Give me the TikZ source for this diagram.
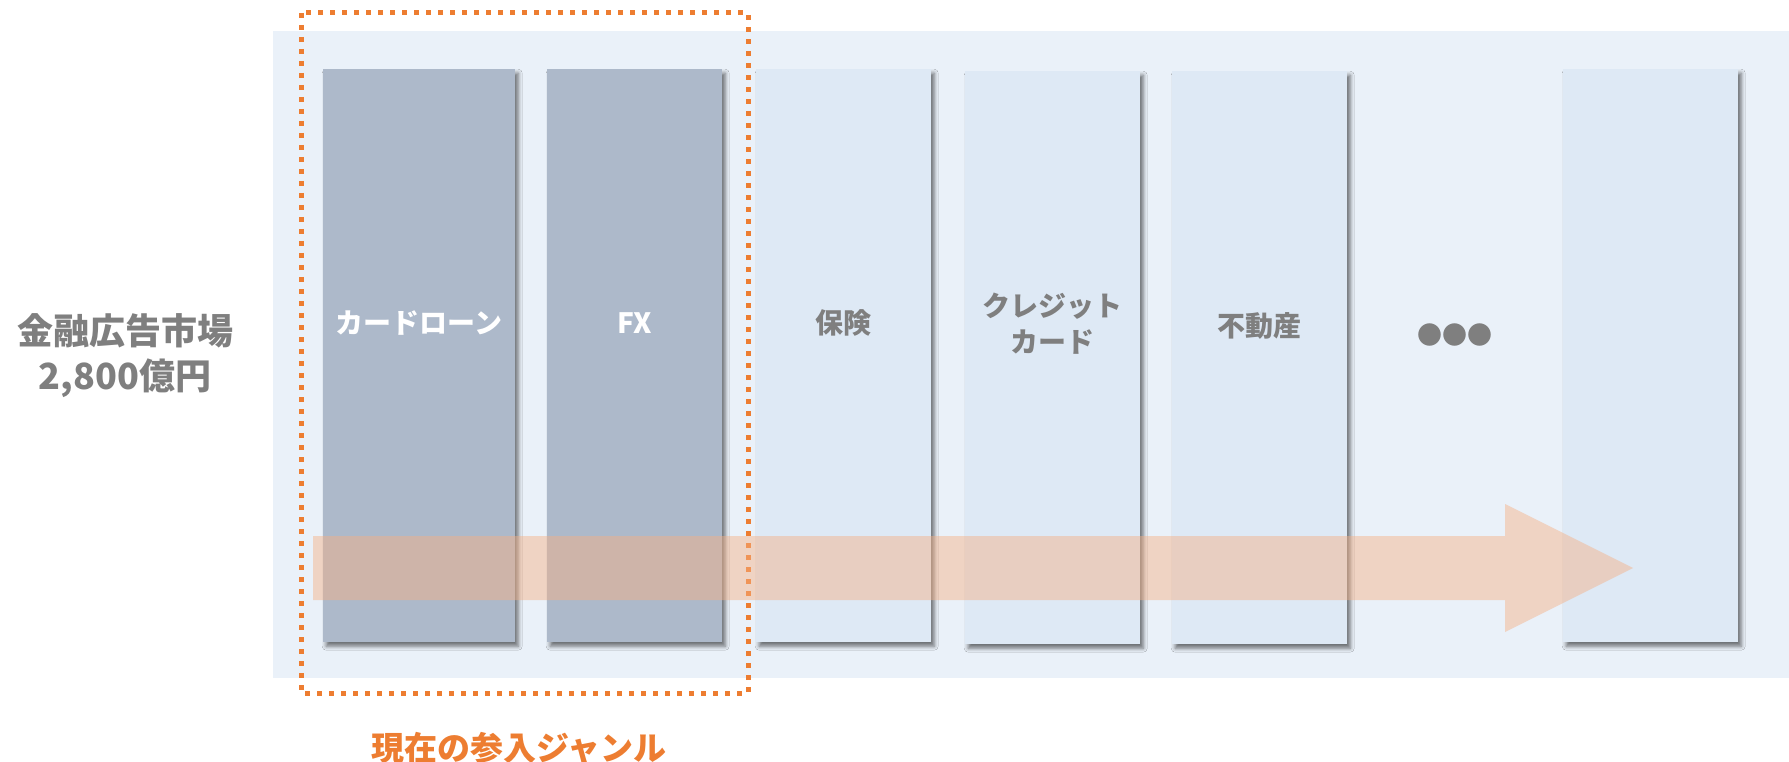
\documentclass[tikz,border=0pt]{standalone}
\usepackage{fontspec}
\setmainfont{Noto Sans CJK JP}
\usetikzlibrary{shadows.blur}
\definecolor{panelbg}{HTML}{EAF1F9}
\definecolor{darkbox}{HTML}{ADB9CA}
\definecolor{lightbox}{HTML}{DEE9F5}
\definecolor{orangeline}{HTML}{ED7D31}
\definecolor{arrowfill}{HTML}{F5B084}
\definecolor{textgray}{HTML}{7F7F7F}
\tikzset{
  genrebox/.style={rectangle, draw=none, inner sep=0pt, anchor=north west,
    minimum width=175pt, minimum height=573pt,
    blur shadow={shadow xshift=3pt, shadow yshift=-4pt, shadow blur radius=4pt, shadow opacity=55}},
  darkgenre/.style={genrebox, fill=darkbox},
  lightgenre/.style={genrebox, fill=lightbox},
  boxlabel/.style={font=\bfseries\fontsize{28}{36}\selectfont, align=center, inner sep=0pt},
  darklabel/.style={boxlabel, text=white},
  lightlabel/.style={boxlabel, text=textgray},
  currentframe/.style={draw=orangeline, line width=5pt, dash pattern=on 5pt off 7pt},
  flowarrow/.style={fill=arrowfill, fill opacity=0.46, draw=none}
}
\begin{document}
\begin{tikzpicture}[x=1pt,y=-1pt]
\useasboundingbox (0,0) rectangle (1789,762);
% background panel
\fill[panelbg] (273,31) rectangle (1789,678);
% genre boxes
\node[darkgenre, minimum width=192pt] (card) at (323,69) {};
\node[darkgenre] (fx) at (547,69) {};
\node[lightgenre] (ins) at (756,69) {};
\node[lightgenre] (credit) at (965,71) {};
\node[lightgenre] (estate) at (1172,71) {};
\node[lightgenre] (more) at (1563,69) {};
% labels
\node[darklabel] (cardlbl) at (419,323) {カードローン};
\node[darklabel] (fxlbl) at (634.5,323) {FX};
\node[lightlabel] (inslbl) at (843.5,323) {保険};
\node[lightlabel] (creditlbl) at (1052.5,324) {クレジット\\カード};
\node[lightlabel] (estatelbl) at (1259.5,326) {不動産};
\node[lightlabel, font=\fontsize{25}{30}\selectfont] (dots) at (1455,335) {●●●};
% market label
\node[font=\bfseries\fontsize{36}{45}\selectfont, text=textgray, align=center, inner sep=0pt] (market) at (125,356) {金融広告市場\\2,800億円};
% current genres frame
\draw[currentframe] (301,13) rectangle (748,693);
\node[font=\bfseries\fontsize{33}{40}\selectfont, text=orangeline, inner sep=0pt] (current) at (519,748) {現在の参入ジャンル};
% expansion arrow
\fill[flowarrow] (313,536) -- (1505,536) -- (1505,504) -- (1633,568) -- (1505,632) -- (1505,600) -- (313,600) -- cycle;
\end{tikzpicture}
\end{document}
